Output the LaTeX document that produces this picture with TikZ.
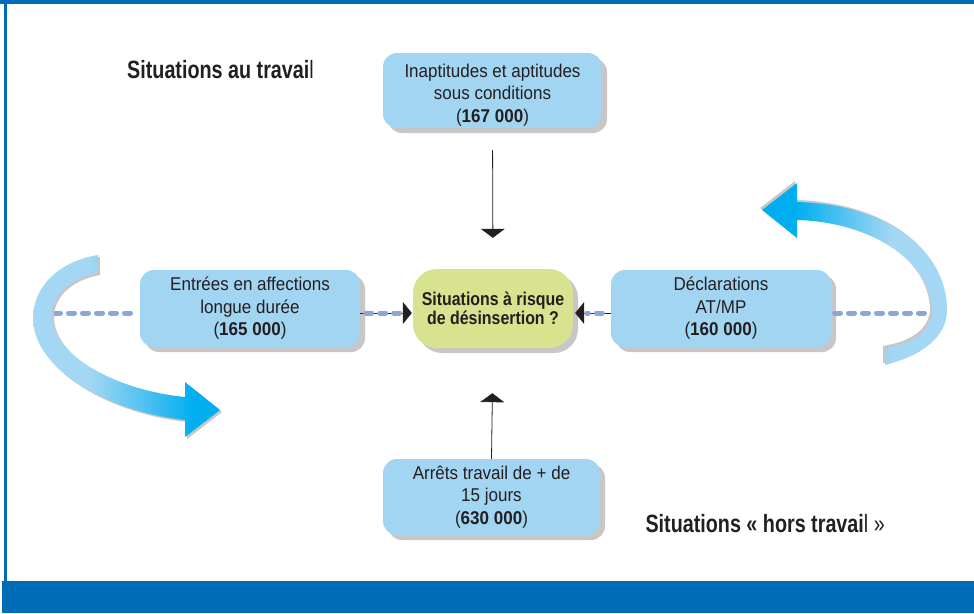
\documentclass[tikz,border=0pt]{standalone}
\usepackage{fontspec}
\setmainfont{Liberation Sans}[FakeStretch=0.92]
\newfontfamily\condfont{Liberation Sans}[FakeStretch=0.79]
\newfontfamily\ctrfont{Liberation Sans}[FakeStretch=0.86]
\usetikzlibrary{arrows.meta,shadows}
\definecolor{frameblue}{RGB}{0,107,182}
\definecolor{boxblue}{RGB}{162,213,242}
\definecolor{ctrgreen}{RGB}{215,227,142}
\definecolor{shgray}{RGB}{200,198,198}
\definecolor{txt}{RGB}{35,31,32}
\definecolor{dashblue}{RGB}{140,167,215}
\definecolor{arclight}{RGB}{164,215,243}
\definecolor{arccyan}{RGB}{0,174,239}
\pgfdeclarehorizontalshading{leftarcshade}{100bp}{color(0bp)=(arclight); color(25bp)=(arclight); color(40bp)=(arclight); color(68bp)=(arccyan); color(100bp)=(arccyan)}
\pgfdeclarehorizontalshading{rightarcshade}{100bp}{color(0bp)=(arccyan); color(25bp)=(arccyan); color(34bp)=(arccyan); color(60bp)=(arclight); color(100bp)=(arclight)}
\newcommand{\lowertext}[2]{\raisebox{-#1}[\height][\depth]{#2}}
\begin{document}
\begin{tikzpicture}[x=1pt,y=-1pt,
  bluebox/.style={fill=boxblue, rounded corners=14pt, inner sep=0pt, text=txt, align=center,
    font=\fontsize{18.5}{22.5}\selectfont,
    general shadow={fill=shgray, shadow xshift=5pt, shadow yshift=-5pt}},
  greenbox/.style={fill=ctrgreen, rounded corners=24pt, inner sep=0pt, text=txt, align=center,
    font=\ctrfont\bfseries\fontsize{18.5}{19.5}\selectfont,
    general shadow={fill=shgray, shadow xshift=5pt, shadow yshift=-5pt}},
  title/.style={text=txt, inner sep=0pt, font=\condfont\fontsize{25}{28}\selectfont},
  vconn/.style={draw=txt, line width=0.8pt, -{Triangle[width=24pt,length=9pt]}},
  hconn/.style={draw=txt, line width=0.8pt, -{Triangle[width=22pt,length=9pt]}},
  dashline/.style={draw=dashblue, line width=5pt, line cap=round, dash pattern=on 6pt off 8pt},
  arcshadow/.style={fill=shgray}
]
\useasboundingbox (0,0) rectangle (974,613);
% frame
\fill[frameblue] (0,0) rectangle (974,4);
\fill[frameblue] (4,0) rectangle (7,581);
\fill[frameblue] (2,581) rectangle (974,613);

% boxes
\node[bluebox, minimum width=219pt, minimum height=75pt] (top) at (492.5,90.5)
  {\lowertext{4.5pt}{\begin{tabular}{@{}c@{}}Inaptitudes et aptitudes\\sous conditions\\(\textbf{167 000})\end{tabular}}};
\node[bluebox, minimum width=220pt, minimum height=77pt] (lft) at (250,308.5)
  {Entrées en affections\\longue durée\\(\textbf{165 000})};
\node[bluebox, minimum width=220pt, minimum height=77pt] (rgt) at (721,308.5)
  {Déclarations\\AT/MP\\(\textbf{160 000})};
\node[bluebox, minimum width=217pt, minimum height=76pt] (bot) at (491.5,497)
  {Arrêts travail de + de\\15 jours\\(\textbf{630 000})};
\node[greenbox, minimum width=160pt, minimum height=79pt] (ctr) at (493,308.5)
  {Situations à risque\\de désinsertion ?};

% titles
\node[title, anchor=base west] (t1) at (127,78) {\textbf{Situations au travai}l};
\node[title, anchor=base east] (t2) at (885,532) {\textbf{Situations « hors travai}l »};

% vertical connectors
\draw[vconn, shorten <=22pt, shorten >=31pt] (top.south) -- (ctr.north);
\draw[vconn, shorten >=45pt] (bot.north) -- (ctr.south);

% horizontal connectors
\draw[hconn, shorten >=1pt] ([yshift=-4.5pt]lft.east) -- ([yshift=-4.5pt]ctr.west);
\draw[dashline, shorten <=5.5pt, shorten >=12.5pt] ([yshift=-4.5pt]lft.east) -- ([yshift=-4.5pt]ctr.west);
\draw[hconn, shorten >=2pt] ([yshift=-4.5pt]rgt.west) -- ([yshift=-4.5pt]ctr.east);
\draw[dashline, shorten <=8.5pt, shorten >=13.5pt] ([yshift=-4.5pt]rgt.west) -- ([yshift=-4.5pt]ctr.east);

% outer dashed lines
\coordinate (la) at (54.5,313);
\coordinate (ra) at (924.5,313);
\draw[dashline, shorten >=2.5pt] (la) -- ([yshift=-4.5pt]lft.west);
\draw[dashline, shorten >=2.5pt] (ra) -- ([yshift=-4.5pt]rgt.east);

% left curved arrow
\begin{scope}[shift={(2,2)}]
\fill[arcshadow] (98,255) .. controls (55,262) and (33,290) .. (33,318)
  .. controls (33,370) and (110,412) .. (185,420) -- (185,437) -- (220,410) -- (185,382) -- (185,397)
  .. controls (115,390) and (52,355) .. (52,315) .. controls (52,295) and (70,278) .. (98,273) -- cycle;
\end{scope}
\shade[shading=leftarcshade] (98,255) .. controls (55,262) and (33,290) .. (33,318)
  .. controls (33,370) and (110,412) .. (185,420) -- (185,437) -- (220,410) -- (185,382) -- (185,397)
  .. controls (115,390) and (52,355) .. (52,315) .. controls (52,295) and (70,278) .. (98,273) -- cycle;

% right curved arrow
\begin{scope}[shift={(-2,-2)}]
\fill[arcshadow] (885,348) -- (885,365) .. controls (925,355) and (947,335) .. (947,310)
  .. controls (947,248) and (883,204) .. (797,202) -- (797,238) -- (762,210) -- (797,183) -- (797,220)
  .. controls (870,222) and (930,260) .. (932,310) .. controls (932,330) and (915,343) .. (885,348) -- cycle;
\end{scope}
\shade[shading=rightarcshade] (885,348) -- (885,365) .. controls (925,355) and (947,335) .. (947,310)
  .. controls (947,248) and (883,204) .. (797,202) -- (797,238) -- (762,210) -- (797,183) -- (797,220)
  .. controls (870,222) and (930,260) .. (932,310) .. controls (932,330) and (915,343) .. (885,348) -- cycle;
\end{tikzpicture}
\end{document}
